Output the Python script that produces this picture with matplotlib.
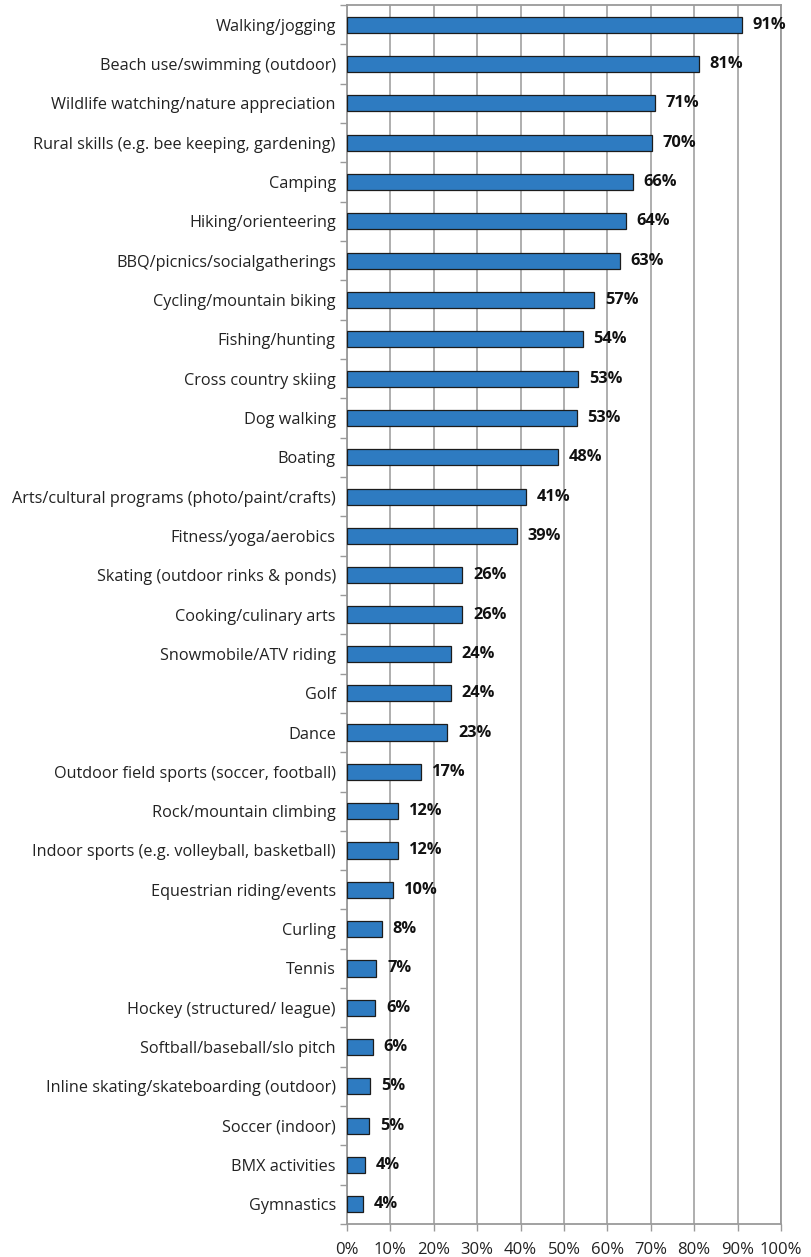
import numpy as np
import matplotlib.pyplot as plt

# Datos (orden de arriba hacia abajo)
actividades = [
    'Walking/jogging', 'Beach use/swimming (outdoor)',
    'Wildlife watching/nature appreciation',
    'Rural skills (e.g. bee keeping, gardening)', 'Camping',
    'Hiking/orienteering', 'BBQ/picnics/socialgatherings',
    'Cycling/mountain biking', 'Fishing/hunting', 'Cross country skiing',
    'Dog walking', 'Boating', 'Arts/cultural programs (photo/paint/crafts)',
    'Fitness/yoga/aerobics', 'Skating (outdoor rinks & ponds)',
    'Cooking/culinary arts', 'Snowmobile/ATV riding', 'Golf', 'Dance',
    'Outdoor field sports (soccer, football)', 'Rock/mountain climbing',
    'Indoor sports (e.g. volleyball, basketball)',
    'Equestrian riding/events', 'Curling', 'Tennis',
    'Hockey (structured/ league)', 'Softball/baseball/slo pitch',
    'Inline skating/skateboarding (outdoor)', 'Soccer (indoor)',
    'BMX activities', 'Gymnastics',
]
valores = [91.0, 81.1, 71.0, 70.2, 65.8, 64.2, 62.8, 57.0, 54.3, 53.2,
           52.9, 48.7, 41.2, 39.1, 26.6, 26.6, 23.9, 23.9, 23.1, 17.0,
           11.7, 11.7, 10.7, 8.0, 6.8, 6.5, 5.9, 5.4, 5.1, 4.2, 3.6]
etiquetas = ['91%', '81%', '71%', '70%', '66%', '64%', '63%', '57%', '54%',
             '53%', '53%', '48%', '41%', '39%', '26%', '26%', '24%', '24%',
             '23%', '17%', '12%', '12%', '10%', '8%', '7%', '6%', '6%',
             '5%', '5%', '4%', '4%']
ticks_x = list(range(0, 101, 10))

plt.rcParams['font.family'] = ['Open Sans', 'DejaVu Sans']

fig = plt.figure(figsize=(8.12, 12.57), dpi=100)
ax = fig.add_axes([0.4273, 0.0262, 0.5345, 0.9698])

n = len(actividades)
y = np.arange(n)
ax.barh(y, valores, height=0.41, color='#2E7BC1', edgecolor='#1c1c1c',
        linewidth=0.9, zorder=3)

for yi, v, lab in zip(y, valores, etiquetas):
    ax.text(v + 2.5, yi, lab, va='center', ha='left', fontsize=11.8,
            fontweight='bold', color='#111111', zorder=4)

ax.set_xlim(0, 100)
ax.set_ylim(n - 0.5, -0.5)

ax.set_yticks(y)
ax.set_yticklabels(actividades, fontsize=11.7, color='#222222')
ax.set_yticks(np.arange(n + 1) - 0.5, minor=True)
ax.tick_params(axis='y', which='major', length=0, pad=8)
ax.tick_params(axis='y', which='minor', length=5, color='#9a9a9a', width=1)

ax.set_xticks(ticks_x)
ax.set_xticklabels([f'{t}%' for t in ticks_x], fontsize=12, color='#222222')
ax.tick_params(axis='x', length=5, color='#9a9a9a', width=1, pad=8)

ax.grid(axis='x', color='#a8a8a8', linewidth=1.3, zorder=0)
for s in ax.spines.values():
    s.set_color('#9a9a9a')
    s.set_linewidth(1.3)

plt.savefig('out.png', dpi=100)
